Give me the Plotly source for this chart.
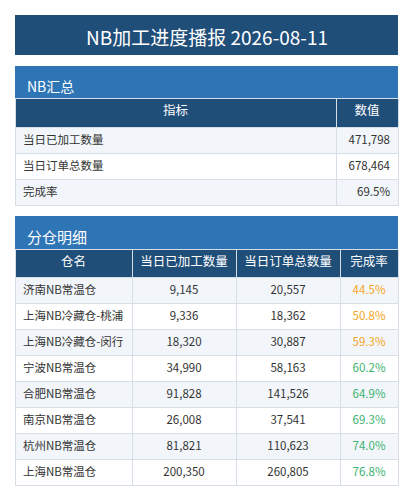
import plotly.graph_objects as go

title = "NB加工进度播报 2026-08-11"
sum_header = ["指标", "数值"]
sum_names = ["当日已加工数量", "当日订单总数量", "完成率"]
sum_values = ["471,798", "678,464", "69.5%"]

det_header = ["仓名", "当日已加工数量", "当日订单总数量", "完成率"]
wh_names = ["济南NB常温仓", "上海NB冷藏仓-桃浦", "上海NB冷藏仓-闵行", "宁波NB常温仓",
            "合肥NB常温仓", "南京NB常温仓", "杭州NB常温仓", "上海NB常温仓"]
processed = [9145, 9336, 18320, 34990, 91828, 26008, 81821, 200350]
orders = [20557, 18362, 30887, 58163, 141526, 37541, 110623, 260805]
rates = [44.5, 50.8, 59.3, 60.2, 64.9, 69.3, 74.0, 76.8]

W, H = 413, 500
OFF = 8  # page body margin offset
FONT = "Noto Sans CJK SC"
DARK = "#1f4e79"
MID = "#2e75b6"
LINE = "#d6dee8"

def py(px):
    return 1 - (px - OFF) / H

def px_x(px):
    return (px - OFF) / W

def rows_fill(n):
    return ["#f2f6fa" if i % 2 == 0 else "#ffffff" for i in range(n)]

fig = go.Figure()

fig.add_trace(go.Table(
    domain=dict(x=[px_x(15), px_x(398)], y=[py(206), py(98)]),
    columnwidth=[321, 62],
    header=dict(values=sum_header, fill_color=DARK, line_color=LINE,
                font=dict(color="white", size=12.5, family=FONT), align="center", height=29),
    cells=dict(values=[sum_names, sum_values], fill_color=[rows_fill(3)] * 2,
               line_color=LINE, font=dict(color="#333333", size=11.5, family=FONT),
               align=["left", "right"], height=26),
))

rate_colors = ["#f5a623" if r < 60 else "#3cb371" for r in rates]
fig.add_trace(go.Table(
    domain=dict(x=[px_x(15), px_x(398)], y=[py(492), py(249)]),
    columnwidth=[117, 104, 104, 58],
    header=dict(values=det_header, fill_color=DARK, line_color=LINE,
                font=dict(color="white", size=12.5, family=FONT), align="center", height=28),
    cells=dict(values=[wh_names, [f"{v:,}" for v in processed], [f"{v:,}" for v in orders],
                       [f"{r:.1f}%" for r in rates]],
               fill_color=[rows_fill(8)] * 4, line_color=LINE,
               font=dict(color=["#333333", "#333333", "#333333", rate_colors], size=11.5, family=FONT),
               align=["left", "center", "center", "center"], height=26),
))

def box(y0, y1, color):
    fig.add_shape(type="rect", xref="paper", yref="paper",
                  x0=px_x(15), x1=px_x(398), y0=py(y1), y1=py(y0),
                  fillcolor=color, line=dict(width=0), layer="below")

box(15, 55, DARK)
box(66, 98, MID)
box(216, 249, MID)

fig.add_annotation(text=title, x=px_x(206.5), y=py(36), xref="paper", yref="paper",
                   xanchor="center", yanchor="middle",
                   showarrow=False, font=dict(color="white", size=19, family=FONT))
fig.add_annotation(text="NB汇总", x=px_x(25), y=py(86), xref="paper", yref="paper",
                   xanchor="left", yanchor="middle", showarrow=False,
                   font=dict(color="white", size=14, family=FONT))
fig.add_annotation(text="分仓明细", x=px_x(25), y=py(237), xref="paper", yref="paper",
                   xanchor="left", yanchor="middle", showarrow=False,
                   font=dict(color="white", size=15, family=FONT))

fig.update_layout(width=W, height=H, margin=dict(l=0, r=0, t=0, b=0),
                  paper_bgcolor="white", plot_bgcolor="white")
fig.write_html("out.html")
